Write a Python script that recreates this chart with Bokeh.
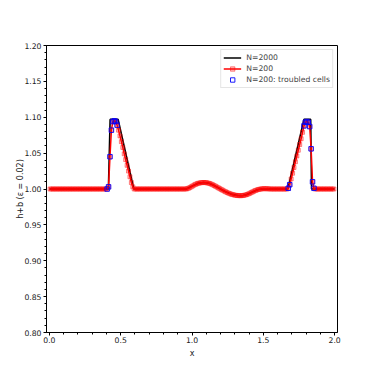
from bokeh.plotting import figure
from bokeh.models import FixedTicker, PrintfTickFormatter, Legend, LegendItem
from bokeh.embed import file_html
from bokeh.resources import INLINE

# N=200 cell values (cell centres 0.005, 0.015, ..., 1.995)
y200 = (
    [1.0] * 40
    + [1.000, 1.003, 1.045, 1.082, 1.094, 1.095, 1.094, 1.089, 1.082, 1.074,
       1.066, 1.058, 1.049, 1.041, 1.033, 1.025, 1.017, 1.009, 1.003, 1.000]
    + [1.0] * 36
    + [1.0003, 1.0010, 1.0020, 1.0031, 1.0043, 1.0055, 1.0065, 1.0074, 1.0080, 1.0085,
       1.0088, 1.0090, 1.0090, 1.0089, 1.0086, 1.0082, 1.0076, 1.0068, 1.0059, 1.0049,
       1.0038, 1.0027, 1.0016, 1.0005, 0.9994, 0.9983, 0.9972, 0.9962, 0.9952, 0.9943,
       0.9935, 0.9928, 0.9922, 0.9917, 0.9913, 0.9910, 0.9908, 0.9907, 0.9907, 0.9909,
       0.9912, 0.9917, 0.9923, 0.9931, 0.9940, 0.9950, 0.9960, 0.9970, 0.9979, 0.9987,
       0.9993, 0.9998, 1.0001, 1.0003, 1.0004, 1.0004, 1.0003, 1.0002, 1.0001]
    + [1.0] * 12
    + [1.001, 1.006, 1.014, 1.022, 1.030, 1.038, 1.046, 1.054, 1.062, 1.070,
       1.079, 1.088, 1.093, 1.094, 1.093, 1.087, 1.056, 1.010, 1.001]
    + [1.0] * 14
)
n200 = len(y200)
x200 = [(i + 0.5) * (2.0 / n200) for i in range(n200)]

# troubled cells (indices into the N=200 grid)
troubled_idx = [40, 41, 42, 43, 44, 45, 46, 47, 167, 168,
                178, 179, 180, 181, 182, 183, 184, 185]
x_tc = [x200[i] for i in troubled_idx]
y_tc = [y200[i] for i in troubled_idx]

# N=2000 reference solution (read at key points)
x2000 = [0.0, 0.414, 0.426, 0.482, 0.592, 0.96, 1.0, 1.04, 1.08, 1.12, 1.16, 1.20,
         1.24, 1.28, 1.32, 1.35, 1.38, 1.42, 1.46, 1.50, 1.55, 1.672, 1.785, 1.832,
         1.838, 2.0]
y2000 = [1.0, 1.0, 1.097, 1.097, 1.0, 1.0, 1.004, 1.0078, 1.009, 1.008, 1.0044, 1.0,
         0.9957, 0.9925, 0.9909, 0.9907, 0.9919, 0.9955, 0.999, 1.0004, 1.0, 1.0, 1.097,
         1.097, 1.0, 1.0]

xticks = [0.0, 0.5, 1.0, 1.5, 2.0]
yticks = [0.80, 0.85, 0.90, 0.95, 1.00, 1.05, 1.10, 1.15, 1.20]

p = figure(width=374, height=374, output_backend="svg", toolbar_location=None,
           x_range=(-0.02, 2.02), y_range=(0.8, 1.2),
           min_border_left=46, min_border_right=37, min_border_top=45,
           min_border_bottom=42)
p.grid.visible = False
p.outline_line_color = "black"
p.outline_line_width = 1

FONT = "DejaVu Sans"
for ax in (p.xaxis[0], p.yaxis[0]):
    ax.axis_line_color = "black"
    ax.major_tick_line_color = "black"
    ax.minor_tick_line_color = "black"
    ax.major_tick_out = 3
    ax.major_tick_in = 0
    ax.minor_tick_out = 2
    ax.minor_tick_in = 0
    ax.major_label_text_font = FONT
    ax.major_label_text_font_size = "7.7px"
    ax.major_label_text_color = "#222222"
    ax.axis_label_text_font = FONT
    ax.axis_label_text_font_size = "8px"
    ax.axis_label_text_font_style = "normal"
    ax.axis_label_text_color = "#222222"

p.xaxis.major_label_standoff = 1
p.xaxis.axis_label_standoff = 3
p.yaxis.major_label_standoff = 2
p.yaxis.axis_label_standoff = -4

p.xaxis.ticker = FixedTicker(ticks=xticks,
                             minor_ticks=[round(i * 0.1, 2) for i in range(21)])
p.yaxis.ticker = FixedTicker(ticks=yticks,
                             minor_ticks=[round(0.8 + i * 0.01, 3) for i in range(41)])
p.xaxis.formatter = PrintfTickFormatter(format="%.1f")
p.yaxis.formatter = PrintfTickFormatter(format="%.2f")
p.xaxis.axis_label = "x"
p.yaxis.axis_label = "h+b (ε = 0.02)"

r_ref = p.line(x2000, y2000, line_color="black", line_width=1.6)
r_l200 = p.line(x200, y200, line_color="red", line_width=1.5)
r_s200 = p.scatter(x200, y200, marker="square", size=4, line_color="red",
                   fill_color="red", fill_alpha=0.25, line_alpha=0.55, line_width=0.8)
r_tc = p.scatter(x_tc, y_tc, marker="square", size=4.5, line_color="blue",
                 fill_color=None, line_width=0.9)

legend = Legend(items=[
    LegendItem(label="N=2000", renderers=[r_ref]),
    LegendItem(label="N=200", renderers=[r_l200, r_s200]),
    LegendItem(label="N=200: troubled cells", renderers=[r_tc]),
], location="top_right")
legend.label_text_font = FONT
legend.label_text_font_size = "7.7px"
legend.label_height = 11
legend.glyph_height = 11
legend.glyph_width = 18
legend.spacing = 0
legend.padding = 2
legend.margin = 4
legend.label_standoff = 5
legend.border_line_color = "#cccccc"
legend.border_line_width = 1
legend.background_fill_alpha = 0.8
p.add_layout(legend)

open("out.html", "w").write(file_html(p, INLINE))
